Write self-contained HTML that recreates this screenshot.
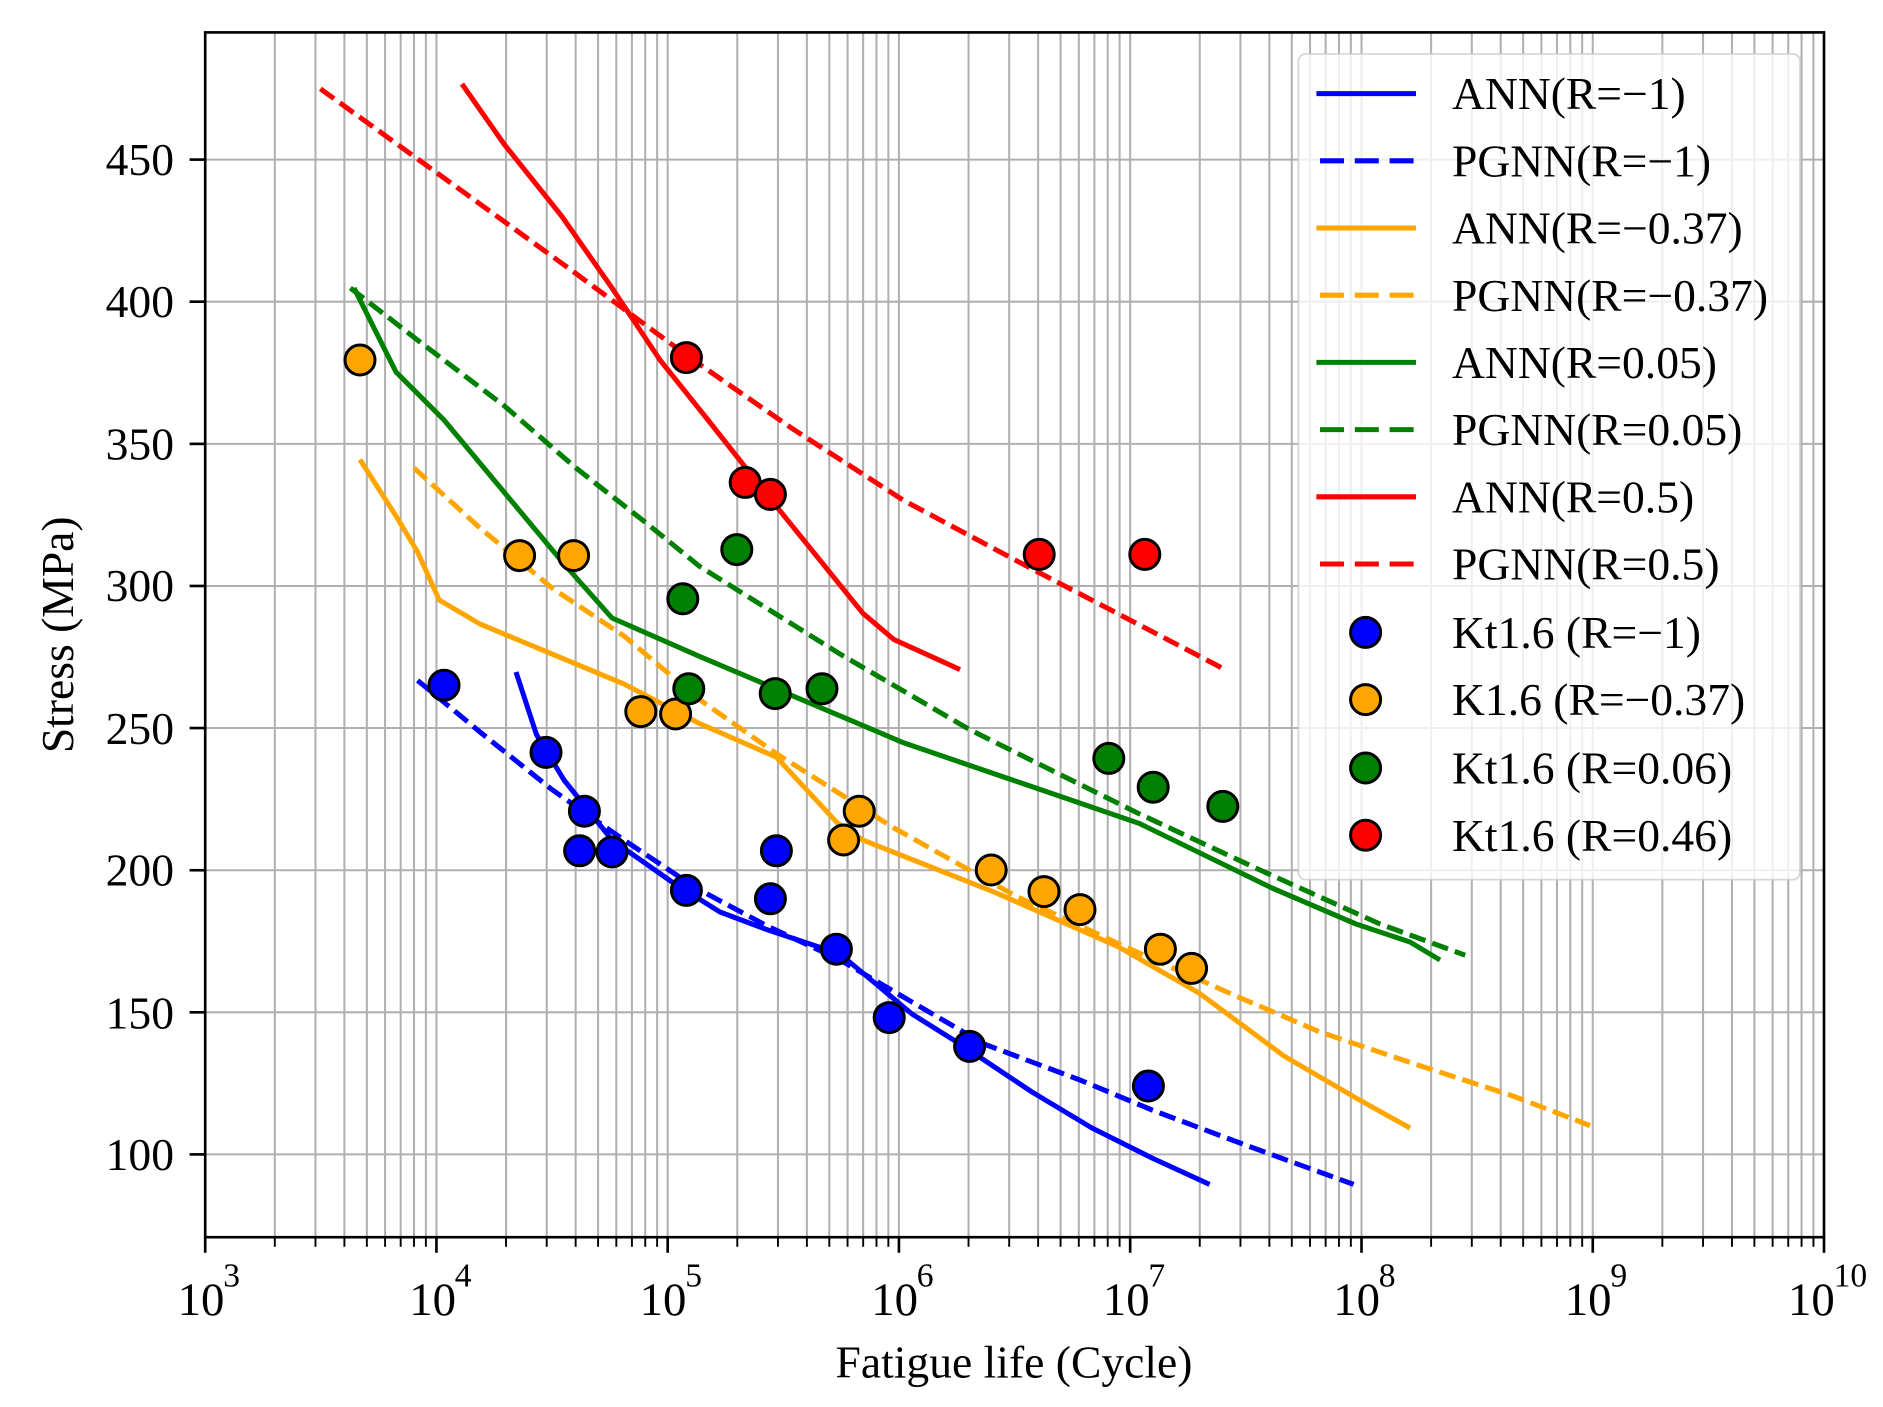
<!DOCTYPE html>
<html><head><meta charset="utf-8"><style>
html,body{margin:0;padding:0;background:#fff;}
svg{display:block;}
text{font-family:"Liberation Serif",serif;fill:#000;}
</style></head><body>
<svg width="1883" height="1407" viewBox="0 0 1569.17 1172.5" xmlns="http://www.w3.org/2000/svg">
<defs>
<g id="minor">
<line x1="58.0" y1="27" x2="58.0" y2="1031"/><line x1="91.9" y1="27" x2="91.9" y2="1031"/>
<line x1="116.0" y1="27" x2="116.0" y2="1031"/><line x1="134.7" y1="27" x2="134.7" y2="1031"/>
<line x1="149.9" y1="27" x2="149.9" y2="1031"/><line x1="162.9" y1="27" x2="162.9" y2="1031"/>
<line x1="174.0" y1="27" x2="174.0" y2="1031"/><line x1="183.9" y1="27" x2="183.9" y2="1031"/>
</g>
<g id="mtick">
<line x1="58.0" y1="1031" x2="58.0" y2="1039"/><line x1="91.9" y1="1031" x2="91.9" y2="1039"/>
<line x1="116.0" y1="1031" x2="116.0" y2="1039"/><line x1="134.7" y1="1031" x2="134.7" y2="1039"/>
<line x1="149.9" y1="1031" x2="149.9" y2="1039"/><line x1="162.9" y1="1031" x2="162.9" y2="1039"/>
<line x1="174.0" y1="1031" x2="174.0" y2="1039"/><line x1="183.9" y1="1031" x2="183.9" y2="1039"/>
</g>
</defs>
<g stroke="#b0b0b0" stroke-width="1.7">
<use href="#minor" x="171"/><use href="#minor" x="363.7"/><use href="#minor" x="556.4"/><use href="#minor" x="749.1"/>
<use href="#minor" x="941.8"/><use href="#minor" x="1134.6"/><use href="#minor" x="1327.3"/>
<line x1="363.7" y1="27" x2="363.7" y2="1031"/><line x1="556.4" y1="27" x2="556.4" y2="1031"/>
<line x1="749.1" y1="27" x2="749.1" y2="1031"/><line x1="941.8" y1="27" x2="941.8" y2="1031"/>
<line x1="1134.6" y1="27" x2="1134.6" y2="1031"/><line x1="1327.3" y1="27" x2="1327.3" y2="1031"/>
<line x1="171" y1="133" x2="1520" y2="133"/><line x1="171" y1="251.4" x2="1520" y2="251.4"/>
<line x1="171" y1="369.9" x2="1520" y2="369.9"/><line x1="171" y1="488.3" x2="1520" y2="488.3"/>
<line x1="171" y1="606.7" x2="1520" y2="606.7"/><line x1="171" y1="725.2" x2="1520" y2="725.2"/>
<line x1="171" y1="843.6" x2="1520" y2="843.6"/><line x1="171" y1="962" x2="1520" y2="962"/>
</g>
<g fill="none" stroke-width="4.2" stroke-linejoin="round">
<polyline stroke="#0000ff" points="430,560 447,612 470,650 510,700 560,735 600,760 640,775 700,795 730,820 760,845 800,870 860,910 910,940 960,965 1008,987"/>
<polyline stroke="#0000ff" stroke-dasharray="14,6" points="348,567 400,610 460,658 520,700 580,740 640,772 700,800 760,835 820,870 900,900 960,925 1040,955 1128,987"/>
<polyline stroke="#ffa500" points="300,383 330,430 348,460 366,500 400,520 460,545 520,570 583,603 647,631 698,686 719,700 830,744 932,789 1000,828 1070,880 1130,915 1175,940"/>
<polyline stroke="#ffa500" stroke-dasharray="14,6" points="345,390 400,440 460,490 520,530 583,583 647,628 745,690 847,747 940,790 1030,830 1100,860 1180,887 1260,913 1325,938"/>
<polyline stroke="#008000" points="295,240 330,310 370,350 420,410 470,470 510,515 583,547 753,619 949,686 1060,740 1130,770 1175,785 1200,800"/>
<polyline stroke="#008000" stroke-dasharray="14,6" points="292,240 350,285 420,338 480,390 540,437 583,472 700,545 808,608 949,678 1050,725 1150,770 1221,796"/>
<polyline stroke="#ff0000" points="385,70 420,120 468,180 510,240 550,300 590,350 643,417 719,511 745,533 800,558"/>
<polyline stroke="#ff0000" stroke-dasharray="14,6" points="267,74 400,170 480,228 572,296 660,357 753,417 856,472 1019,557"/>
</g>
<g stroke="#000" stroke-width="2.5">
<g fill="#0000ff">
<circle cx="370" cy="571" r="12.5"/><circle cx="455" cy="627" r="12.5"/><circle cx="487" cy="676" r="12.5"/><circle cx="483" cy="709" r="12.5"/><circle cx="510" cy="710" r="12.5"/><circle cx="572" cy="742" r="12.5"/><circle cx="647" cy="709" r="12.5"/><circle cx="642" cy="749" r="12.5"/><circle cx="697" cy="791" r="12.5"/><circle cx="741" cy="848" r="12.5"/><circle cx="808" cy="872" r="12.5"/><circle cx="957" cy="905" r="12.5"/>
</g>
<g fill="#ffa500">
<circle cx="300" cy="300" r="12.5"/><circle cx="433" cy="463" r="12.5"/><circle cx="478" cy="463" r="12.5"/><circle cx="534" cy="593" r="12.5"/><circle cx="563" cy="595" r="12.5"/><circle cx="716" cy="676" r="12.5"/><circle cx="703" cy="700" r="12.5"/><circle cx="826" cy="725" r="12.5"/><circle cx="870" cy="743" r="12.5"/><circle cx="900" cy="758" r="12.5"/><circle cx="967" cy="791" r="12.5"/><circle cx="993" cy="807" r="12.5"/>
</g>
<g fill="#008000">
<circle cx="569" cy="499" r="12.5"/><circle cx="614" cy="458" r="12.5"/><circle cx="574" cy="574" r="12.5"/><circle cx="646" cy="578" r="12.5"/><circle cx="685" cy="574" r="12.5"/><circle cx="924" cy="632" r="12.5"/><circle cx="961" cy="656" r="12.5"/><circle cx="1019" cy="672" r="12.5"/>
</g>
<g fill="#ff0000">
<circle cx="572" cy="298" r="12.5"/><circle cx="621" cy="402" r="12.5"/><circle cx="642" cy="412" r="12.5"/><circle cx="866" cy="462" r="12.5"/><circle cx="954" cy="462" r="12.5"/>
</g>
</g>
<rect x="1082" y="45" width="418" height="688" rx="6" fill="#fff" fill-opacity="0.8" stroke="#cccccc" stroke-opacity="0.8" stroke-width="1.5"/>
<g stroke-width="4.2">
<line x1="1097" y1="78" x2="1180" y2="78" stroke="#0000ff"/>
<line x1="1100" y1="134" x2="1180" y2="134" stroke="#0000ff" stroke-dasharray="20,9"/>
<line x1="1097" y1="190" x2="1180" y2="190" stroke="#ffa500"/>
<line x1="1100" y1="246" x2="1180" y2="246" stroke="#ffa500" stroke-dasharray="20,9"/>
<line x1="1097" y1="302" x2="1180" y2="302" stroke="#008000"/>
<line x1="1100" y1="358" x2="1180" y2="358" stroke="#008000" stroke-dasharray="20,9"/>
<line x1="1097" y1="414" x2="1180" y2="414" stroke="#ff0000"/>
<line x1="1100" y1="470" x2="1180" y2="470" stroke="#ff0000" stroke-dasharray="20,9"/>
</g>
<g stroke="#000" stroke-width="2.5">
<circle cx="1138" cy="527" r="12.5" fill="#0000ff"/><circle cx="1138" cy="583" r="12.5" fill="#ffa500"/>
<circle cx="1138" cy="640" r="12.5" fill="#008000"/><circle cx="1138" cy="696" r="12.5" fill="#ff0000"/>
</g>
<g font-size="38">
<text x="1210" y="91">ANN(R=−1)</text>
<text x="1210" y="147">PGNN(R=−1)</text>
<text x="1210" y="203">ANN(R=−0.37)</text>
<text x="1210" y="259">PGNN(R=−0.37)</text>
<text x="1210" y="315">ANN(R=0.05)</text>
<text x="1210" y="371">PGNN(R=0.05)</text>
<text x="1210" y="427">ANN(R=0.5)</text>
<text x="1210" y="483">PGNN(R=0.5)</text>
<text x="1210" y="540">Kt1.6 (R=−1)</text>
<text x="1210" y="596">K1.6 (R=−0.37)</text>
<text x="1210" y="653">Kt1.6 (R=0.06)</text>
<text x="1210" y="709">Kt1.6 (R=0.46)</text>
</g>
<rect x="171" y="27" width="1349" height="1004" fill="none" stroke="#000" stroke-width="2.2"/>
<g stroke="#000" stroke-width="2.2">
<line x1="171" y1="1031" x2="171" y2="1044"/><line x1="363.7" y1="1031" x2="363.7" y2="1044"/><line x1="556.4" y1="1031" x2="556.4" y2="1044"/><line x1="749.1" y1="1031" x2="749.1" y2="1044"/><line x1="941.8" y1="1031" x2="941.8" y2="1044"/><line x1="1134.6" y1="1031" x2="1134.6" y2="1044"/><line x1="1327.3" y1="1031" x2="1327.3" y2="1044"/><line x1="1520" y1="1031" x2="1520" y2="1044"/>
<g stroke-width="1.6"><use href="#mtick" x="171"/><use href="#mtick" x="363.7"/><use href="#mtick" x="556.4"/><use href="#mtick" x="749.1"/><use href="#mtick" x="941.8"/><use href="#mtick" x="1134.6"/><use href="#mtick" x="1327.3"/></g>
<line x1="158" y1="133" x2="171" y2="133"/><line x1="158" y1="251.4" x2="171" y2="251.4"/><line x1="158" y1="369.9" x2="171" y2="369.9"/><line x1="158" y1="488.3" x2="171" y2="488.3"/><line x1="158" y1="606.7" x2="171" y2="606.7"/><line x1="158" y1="725.2" x2="171" y2="725.2"/><line x1="158" y1="843.6" x2="171" y2="843.6"/><line x1="158" y1="962" x2="171" y2="962"/>
</g>
<g font-size="38" text-anchor="end">
<text x="145" y="146">450</text><text x="145" y="264">400</text><text x="145" y="383">350</text><text x="145" y="501">300</text>
<text x="145" y="620">250</text><text x="145" y="738">200</text><text x="145" y="857">150</text><text x="145" y="975">100</text>
</g>
<g font-size="39">
<text x="148" y="1096">10</text><text x="186" y="1072" font-size="28">3</text>
<text x="341" y="1096">10</text><text x="379" y="1072" font-size="28">4</text>
<text x="533" y="1096">10</text><text x="571" y="1072" font-size="28">5</text>
<text x="726" y="1096">10</text><text x="764" y="1072" font-size="28">6</text>
<text x="919" y="1096">10</text><text x="957" y="1072" font-size="28">7</text>
<text x="1111" y="1096">10</text><text x="1149" y="1072" font-size="28">8</text>
<text x="1304" y="1096">10</text><text x="1342" y="1072" font-size="28">9</text>
<text x="1490" y="1096">10</text><text x="1528" y="1072" font-size="28">10</text>
</g>
<text x="845" y="1148" font-size="38" text-anchor="middle">Fatigue life (Cycle)</text>
<text transform="translate(61,529) rotate(-90)" font-size="38" text-anchor="middle">Stress (MPa)</text>
</svg>
</body></html>
